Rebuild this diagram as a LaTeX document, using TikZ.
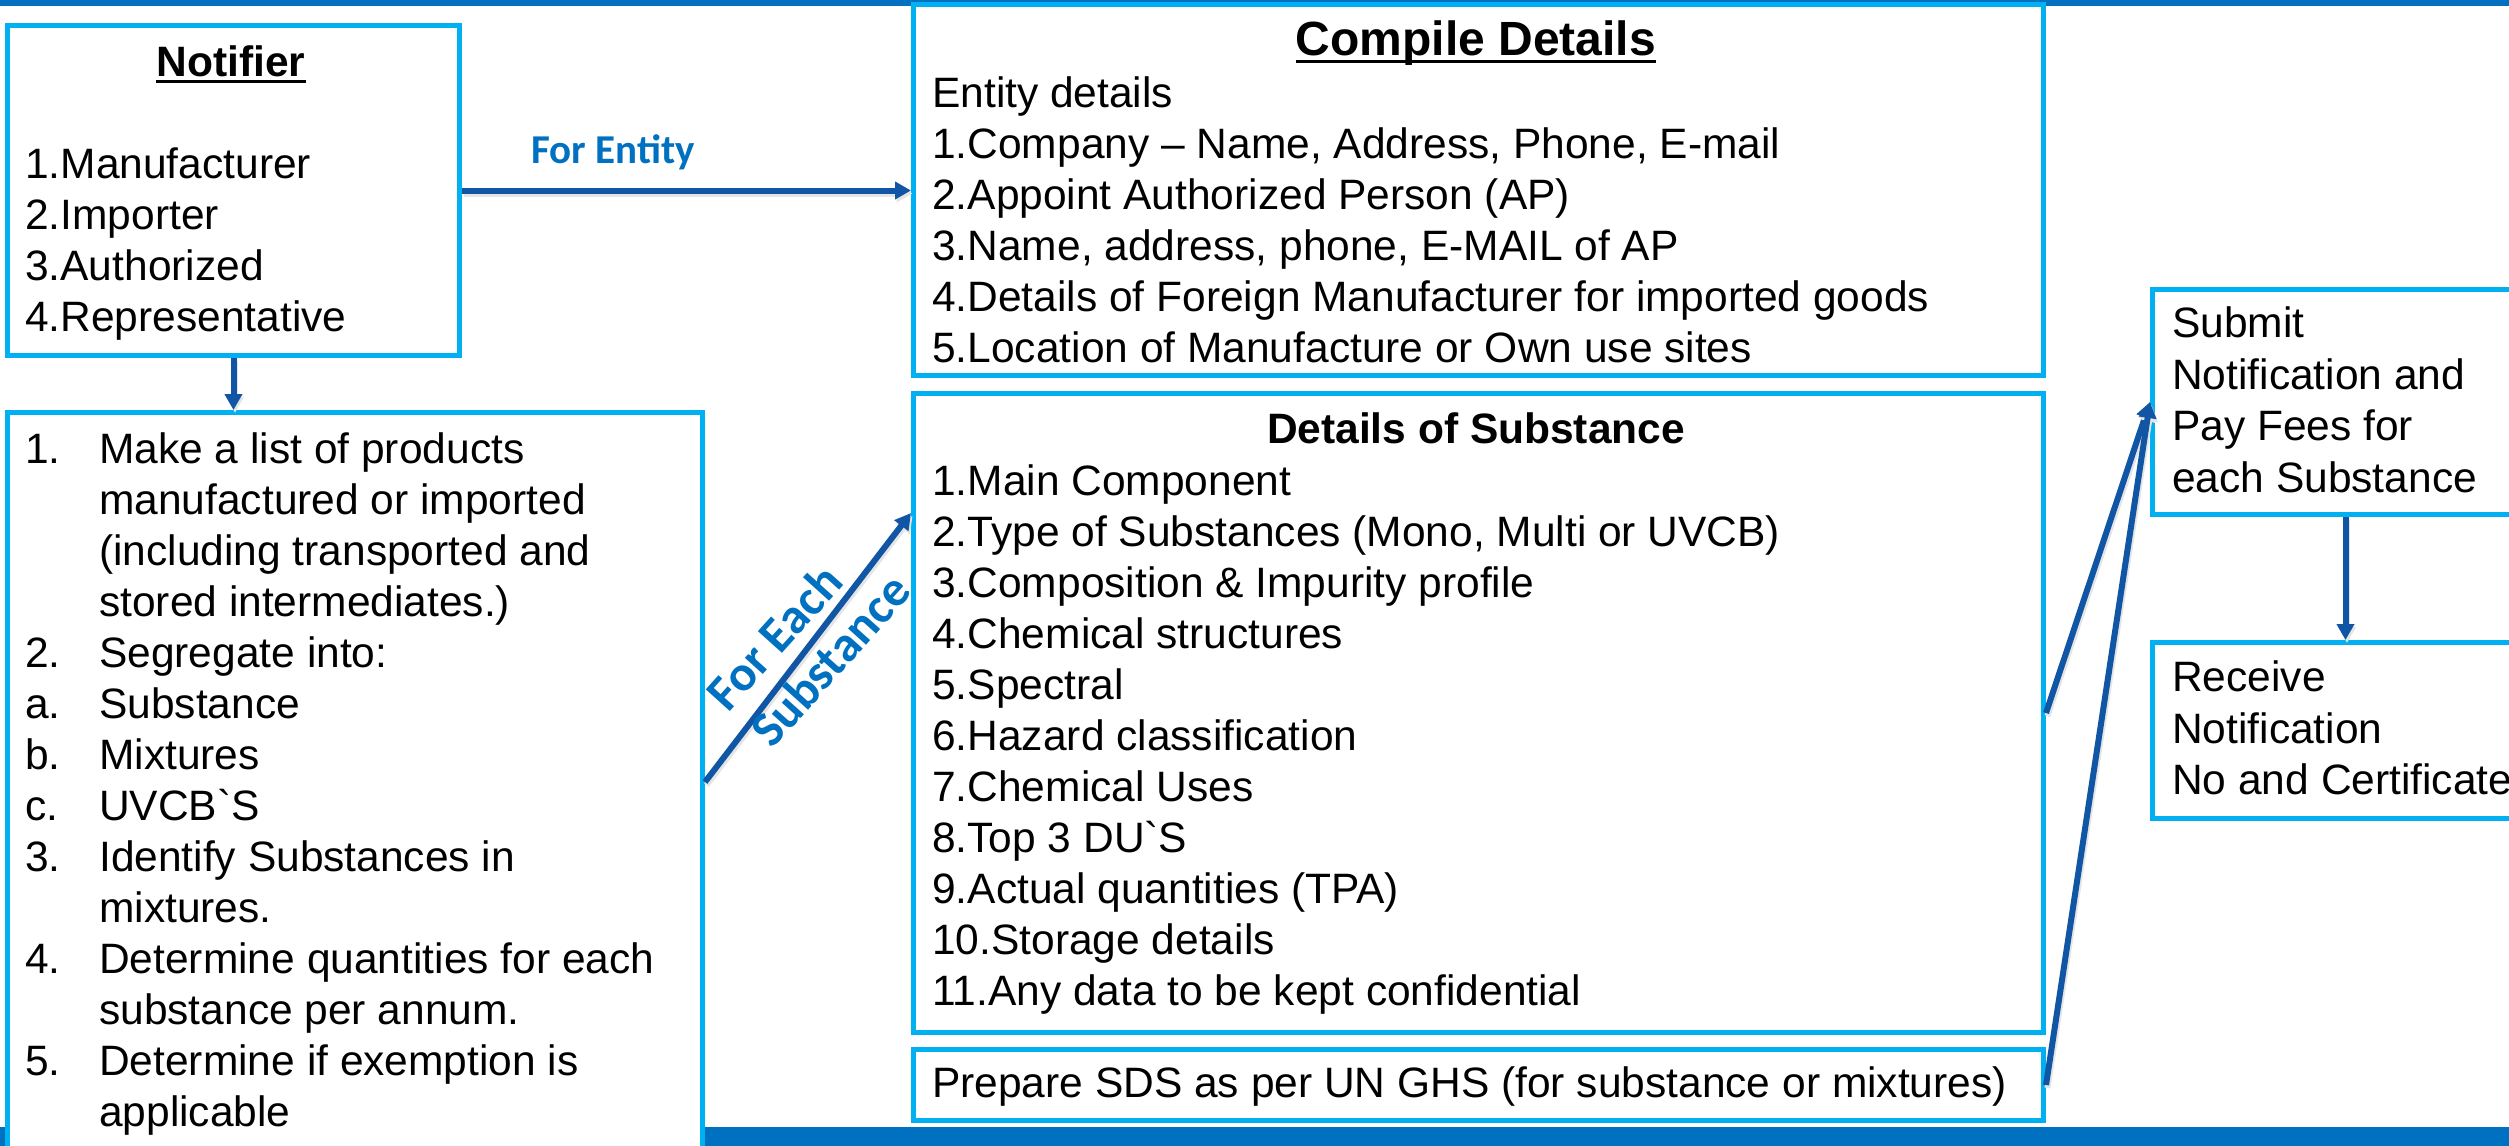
\documentclass[tikz,border=0pt]{standalone}
\usepackage{fontspec}
\setmainfont{Liberation Sans}[Ligatures=TeXOff]
\newfontfamily\calfont{Carlito}
\usetikzlibrary{arrows.meta,calc}
\definecolor{boxblue}{HTML}{00B0F0}
\definecolor{barblue}{HTML}{0070C0}
\definecolor{arrblue}{HTML}{1155A5}
\definecolor{lblblue}{HTML}{0070C0}
\begin{document}
\begin{tikzpicture}[x=1pt,y=-1pt,
  box/.style={draw=boxblue, line width=5pt, fill=white, inner sep=0pt, rectangle, anchor=north west},
  txt/.style={font=\fontsize{42.5}{51}\selectfont, align=left, inner sep=0pt, anchor=north west},
  rtxt/.style={font=\fontsize{42.5}{51.5}\selectfont, align=left, inner sep=0pt, anchor=north west},
  ttl/.style={font=\fontsize{42.5}{51}\selectfont\bfseries, inner sep=0pt, anchor=base},
  bigttl/.style={font=\fontsize{48}{58}\selectfont\bfseries, inner sep=0pt, anchor=base},
  uline/.style={draw=black, line width=3pt},
  arr/.style={draw=arrblue, line width=6pt, -{Triangle[length=16pt,width=17pt]},
    preaction={draw=black!10, line width=6pt, -{Triangle[length=16pt,width=17pt]}, transform canvas={shift={(1.5pt,-3pt)}}}},
  lbl/.style={font=\calfont\bfseries\fontsize{41}{49}\selectfont, text=lblblue, inner sep=0pt},
  slbl/.style={font=\calfont\bfseries\fontsize{50}{60}\selectfont, text=lblblue, inner sep=0pt, rotate=48}
]
\useasboundingbox (0,0) rectangle (2509,1146);
\clip (0,0) rectangle (2509,1146);
% bars
\fill[barblue] (0,0) rectangle (2509,6);
\fill[barblue] (0,1127) rectangle (2509,1146);

% boxes
\node[box, minimum width=452, minimum height=330] (notifier) at (5,23) {};
\node[box, minimum width=695, minimum height=760] (listbox) at (5,410) {};
\node[box, minimum width=1130, minimum height=371] (compile) at (911,2) {};
\node[box, minimum width=1130, minimum height=639] (subst) at (911,391) {};
\node[box, minimum width=1130, minimum height=71] (sds) at (911,1047) {};
\node[box, minimum width=386, minimum height=225] (submit) at (2150,287) {};
\node[box, minimum width=386, minimum height=176] (receive) at (2150,640) {};

% Notifier
\node[ttl] (notifierT) at (231,76) {Notifier};
\draw[uline] ($(notifierT.base west)+(0,5)$) -- ($(notifierT.base east)+(0,5)$);
\node[txt] (notifierL) at (25,142.3) {\strut 1.Manufacturer\\ \strut 2.Importer\\ \strut 3.Authorized\\ \strut 4.Representative};

% list box
\node[txt] (listL) at (25,427.3) {%
\strut\makebox[74pt][l]{1.}Make a list of products\\
\strut\hspace*{74pt}manufactured or imported\\
\strut\hspace*{74pt}(including transported and\\
\strut\hspace*{74pt}stored intermediates.)\\
\strut\makebox[74pt][l]{2.}Segregate into:\\
\strut\makebox[74pt][l]{a.}Substance\\
\strut\makebox[74pt][l]{b.}Mixtures\\
\strut\makebox[74pt][l]{c.}UVCB`S\\
\strut\makebox[74pt][l]{3.}Identify Substances in\\
\strut\hspace*{74pt}mixtures.\\
\strut\makebox[74pt][l]{4.}Determine quantities for each\\
\strut\hspace*{74pt}substance per annum.\\
\strut\makebox[74pt][l]{5.}Determine if exemption is\\
\strut\hspace*{74pt}applicable};

% Compile details
\node[bigttl] (compileT) at (1476,55) {Compile Details};
\draw[uline] ($(compileT.base west)+(0,6)$) -- ($(compileT.base east)+(0,6)$);
\node[txt] (compileL) at (932,71.3) {%
\strut Entity details\\
\strut 1.Company – Name, Address, Phone, E-mail\\
\strut 2.Appoint Authorized Person (AP)\\
\strut 3.Name, address, phone, E-MAIL of AP\\
\strut 4.Details of Foreign Manufacturer for imported goods\\
\strut 5.Location of Manufacture or Own use sites};

% Details of substance
\node[ttl] (substT) at (1476,443) {Details of Substance};
\node[txt] (substL) at (932,459.3) {%
\strut 1.Main Component\\
\strut 2.Type of Substances (Mono, Multi or UVCB)\\
\strut 3.Composition \& Impurity profile\\
\strut 4.Chemical structures\\
\strut 5.Spectral\\
\strut 6.Hazard classification\\
\strut 7.Chemical Uses\\
\strut 8.Top 3 DU`S\\
\strut 9.Actual quantities (TPA)\\
\strut 10.Storage details\\
\strut 11.Any data to be kept confidential};

% SDS
\node[txt, anchor=base west] (sdsL) at (932,1097) {Prepare SDS as per UN GHS (for substance or mixtures)};

% Submit / receive
\node[rtxt] (submitL) at (2172,301.3) {\strut Submit\\ \strut Notification and\\ \strut Pay Fees for\\ \strut each Substance};
\node[rtxt] (receiveL) at (2172,655.3) {\strut Receive\\ \strut Notification\\ \strut No and Certificate};

% connectors
\draw[arr] (notifier.east) -- (notifier.east -| compile.west);
\draw[arr] (notifier.south) -- (notifier.south |- listbox.north);
\draw[arr] (listbox.east |- 0,782) -- (subst.west |- 0,513);
\draw[arr] (subst.east) -- (submit.west);
\draw[arr] (sds.east) -- (submit.west);
\draw[arr] (submit.south) -- (receive.north);

% labels
\node[lbl, anchor=base] (forentity) at (613,163) {For Entity};
\node[slbl] (foreach) at (774,637) {For Each};
\node[slbl] (substance) at (830,660) {Substance};
\end{tikzpicture}
\end{document}
